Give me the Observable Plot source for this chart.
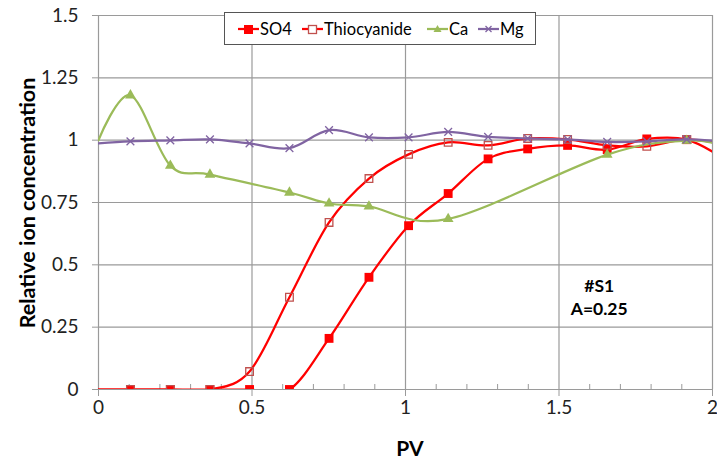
<!DOCTYPE html>
<html><head><meta charset="utf-8">
<script src="https://cdn.jsdelivr.net/npm/d3@7"></script>
<script src="https://cdn.jsdelivr.net/npm/@observablehq/plot@0.6"></script>
<style>
body{margin:0;background:#fff;font-family:Lato,"Noto Sans",sans-serif}
#wrap{position:relative;width:717px;height:461px}
#legend{position:absolute;left:224px;top:12px;width:312px;height:33px;border:1px solid #555;background:#fff;box-sizing:border-box}
.item{position:absolute;top:0;height:31px;display:flex;align-items:center;font-size:16.5px;color:#000}
.item svg{display:block}
.item span{margin-left:1px}
#ylab{position:absolute;left:27px;top:203px;transform:translate(-50%,-50%) rotate(-90deg);font-weight:bold;font-size:21.5px;white-space:nowrap;color:#000}
#xlab{position:absolute;left:410px;top:447px;transform:translate(-50%,-50%);font-weight:bold;font-size:21px;color:#000}
</style></head>
<body><div id="wrap"></div>
<script>
// PV (pore volumes) sample positions
const pv = [0, 0.104, 0.234, 0.363, 0.492, 0.622, 0.751, 0.881, 1.010, 1.139, 1.269, 1.398, 1.528, 1.657, 1.786, 1.916, 2.045];
const so4 = [0, 0, 0, 0, 0, 0, 0.205, 0.45, 0.657, 0.786, 0.925, 0.965, 0.979, 0.962, 1.005, 1.002, 0.92];
const thiocyanide = [0, 0, 0, 0, 0.072, 0.37, 0.67, 0.846, 0.943, 0.991, 0.979, 1.007, 1.003, 0.979, 0.975, 1.003, 0.98];
const caPV = [0, 0.104, 0.234, 0.363, 0.622, 0.751, 0.881, 1.139, 1.657, 1.916, 2.045];
const ca = [1.0, 1.18, 0.898, 0.862, 0.79, 0.746, 0.734, 0.684, 0.942, 0.998, 0.975];
const mg = [0.987, 0.995, 0.999, 1.003, 0.987, 0.968, 1.04, 1.011, 1.011, 1.033, 1.013, 1.007, 1.003, 0.993, 0.995, 1.003, 0.993];
const yTicks = [0, 0.25, 0.5, 0.75, 1, 1.25, 1.5];
const xTicks = [0, 0.5, 1, 1.5, 2];
const xMinor = [0.1, 0.2, 0.3, 0.4, 0.6, 0.7, 0.8, 0.9, 1.1, 1.2, 1.3, 1.4, 1.6, 1.7, 1.8, 1.9];
const seriesNames = ["SO4", "Thiocyanide", "Ca", "Mg"];
const annotation = ["#S1\nA=0.25"];

const gray = "#9a9a9a";
const rows = (xs, vs) => xs.map((x, i) => ({pv: x, v: vs[i]}));
const dSO4 = rows(pv, so4), dThio = rows(pv, thiocyanide), dCa = rows(caPV, ca), dMg = rows(pv, mg);
const mk = d => d.filter(r => r.pv > 0);
const lineOpts = (stroke) => ({x: "pv", y: "v", stroke, strokeWidth: 2.25, curve: "cardinal", clip: true});

const chart = Plot.plot({
  width: 717, height: 461,
  marginLeft: 98, marginRight: 5, marginTop: 15, marginBottom: 72,
  style: {fontFamily: "Lato, 'Noto Sans', sans-serif", fontSize: "19px", background: "#fff"},
  x: {domain: [0, 2]},
  y: {domain: [0, 1.5]},
  marks: [
    Plot.gridY(yTicks, {stroke: gray, strokeOpacity: 1, strokeWidth: 1.2}),
    Plot.gridX(xTicks, {stroke: gray, strokeOpacity: 1, strokeWidth: 1.2}),
    Plot.axisY(yTicks, {tickSize: 6, tickPadding: 14, stroke: gray, fontSize: 19, fill: "#222", tickFormat: d => String(d), label: null}),
    Plot.axisX(xTicks, {tickSize: 7, tickPadding: 4, stroke: gray, fontSize: 19, fill: "#222", tickFormat: d => String(d), label: null}),
    Plot.axisX(xMinor, {anchor: "bottom", tickSize: 5, dy: -5, stroke: gray, tickFormat: () => "", label: null}),
    Plot.text(annotation, {x: 1.631, y: 0.373, text: d => d, fontSize: 17.5, fontWeight: "bold", lineHeight: 1.3, fill: "#000", textAnchor: "middle"}),
    Plot.line(dSO4, lineOpts("#ff0000")),
    Plot.dot(mk(dSO4), {x: "pv", y: "v", symbol: "square", r: 5, fill: "#ff0000", stroke: "none", clip: true}),
    Plot.line(dThio, lineOpts("#ff0000")),
    Plot.dot(mk(dThio), {x: "pv", y: "v", symbol: "square", r: 4.3, fill: "none", stroke: "#c0504d", strokeWidth: 1.3, clip: true}),
    Plot.line(dCa, lineOpts("#9bbb59")),
    Plot.dot(mk(dCa), {x: "pv", y: "v", symbol: "triangle", r: 4, fill: "#9bbb59", stroke: "none", clip: true}),
    Plot.line(dMg, lineOpts("#8064a2")),
    Plot.dot(mk(dMg), {x: "pv", y: "v", symbol: "times", r: 3.6, stroke: "#8064a2", strokeWidth: 1.3, clip: true})
  ]
});
const wrap = document.getElementById("wrap");
wrap.appendChild(chart);

// axis titles
const yl = document.createElement("div"); yl.id = "ylab"; yl.textContent = "Relative ion concentration"; wrap.appendChild(yl);
const xl = document.createElement("div"); xl.id = "xlab"; xl.textContent = "PV"; wrap.appendChild(xl);

// legend
const legend = document.createElement("div"); legend.id = "legend";
const swatches = {
  "SO4": '<line x1="0" x2="21" y1="7" y2="7" stroke="#ff0000" stroke-width="2.25"/><rect x="6" y="3" width="9" height="9" fill="#ff0000"/>',
  "Thiocyanide": '<line x1="0" x2="21" y1="7" y2="7" stroke="#ff0000" stroke-width="2.25"/><rect x="6.5" y="3.5" width="8" height="8" fill="#fff" stroke="#c0504d" stroke-width="1.3"/>',
  "Ca": '<line x1="0" x2="21" y1="7" y2="7" stroke="#9bbb59" stroke-width="2.25"/><path d="M10.5,3 L14.5,10 L6.5,10 Z" fill="#9bbb59"/>',
  "Mg": '<line x1="0" x2="21" y1="7" y2="7" stroke="#8064a2" stroke-width="2.25"/><path d="M7.5,4 L13.5,10 M13.5,4 L7.5,10" stroke="#8064a2" stroke-width="1.3"/>'
};
const lefts = [13, 77, 202, 253];
seriesNames.forEach((name, i) => {
  const it = document.createElement("div"); it.className = "item"; it.style.left = lefts[i] + "px";
  it.innerHTML = '<svg width="21" height="14">' + swatches[name] + '</svg><span>' + name + '</span>';
  legend.appendChild(it);
});
wrap.appendChild(legend);
</script>
</body></html>
